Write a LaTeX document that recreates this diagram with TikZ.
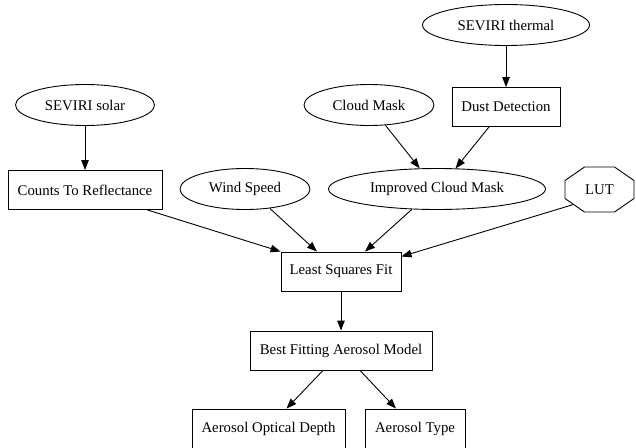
\documentclass[tikz,border=0pt]{standalone}
\usepackage{fontspec}
\setmainfont{Liberation Serif}
\usetikzlibrary{shapes.geometric,arrows.meta}
\begin{document}
\begin{tikzpicture}[x=1pt,y=-1pt,
  base/.style={draw,line width=0.9pt,inner sep=0pt,font=\fontsize{14.8}{17}\selectfont},
  ell/.style={base,ellipse,minimum height=41pt},
  box/.style={base,rectangle,minimum height=39pt},
  edge/.style={line width=0.9pt,-{Triangle[length=10pt,width=7.5pt]}}]
\useasboundingbox[fill=white] (0,0) rectangle (636,447);
% nodes
\node[ell,minimum width=167pt] (th) at (506,25) {SEVIRI thermal};
\node[box,minimum width=108pt] (dd) at (506,107) {Dust Detection};
\node[ell,minimum width=130pt] (cm) at (369,105) {Cloud Mask};
\node[ell,minimum width=139pt] (sol) at (85,105) {SEVIRI solar};
\node[box,minimum width=154pt] (cr) at (85,190) {Counts To Reflectance};
\node[ell,minimum width=130pt] (ws) at (245,189) {Wind Speed};
\node[ell,minimum width=217pt] (icm) at (437,189) {Improved Cloud Mask};
\node[base,draw=none,rectangle,minimum width=69pt,minimum height=45pt] (lut) at (599.5,189.5) {LUT};
\draw[line width=0.9pt]
  ([shift={(-15,-22.5)}]lut.center) -- ([shift={(15,-22.5)}]lut.center)
  -- ([shift={(34.5,-9)}]lut.center) -- ([shift={(34.5,9)}]lut.center)
  -- ([shift={(15,22.5)}]lut.center) -- ([shift={(-15,22.5)}]lut.center)
  -- ([shift={(-34.5,9)}]lut.center) -- ([shift={(-34.5,-9)}]lut.center) -- cycle;
\coordinate (lutout) at ([shift={(-26,15)}]lut.center);
\node[box,minimum width=120pt] (lsf) at (341,271.5) {Least Squares Fit};
\node[box,minimum width=182pt] (bf) at (341,350.5) {Best Fitting Aerosol Model};
\node[box,minimum width=153pt] (aod) at (268.5,428.5) {Aerosol Optical Depth};
\node[box,minimum width=100pt] (at) at (415,428.5) {Aerosol Type};
% edges
\draw[edge] (th) -- (dd);
\draw[edge] (sol) -- (cr);
\draw[edge] (cm.-51) -- (icm.130);
\draw[edge] ([xshift=-17pt]dd.south) -- (icm.48);
\draw[edge] ([xshift=-15pt]cr.south east) -- (lsf.north west);
\draw[edge] (ws.-38) -- ([xshift=-24pt]lsf.north);
\draw[edge] (icm.-141) -- ([xshift=24pt]lsf.north);
\draw[edge] (lutout) -- ([yshift=15pt]lsf.east);
\draw[edge] (lsf) -- (bf);
\draw[edge] ([xshift=-18pt]bf.south) -- ([xshift=18pt]aod.north);
\draw[edge] ([xshift=19pt]bf.south) -- ([xshift=-19pt]at.north);
\end{tikzpicture}
\end{document}
